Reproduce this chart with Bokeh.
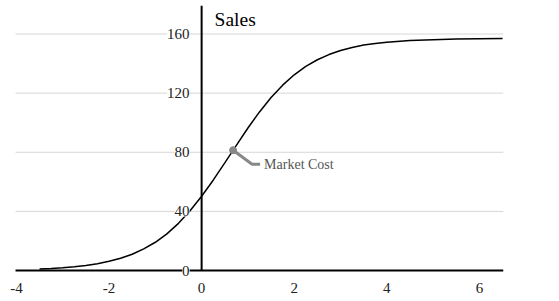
from bokeh.plotting import figure
from bokeh.models import Range1d, Label
from bokeh.embed import file_html
from bokeh.resources import INLINE

# ---- data ----
cost = [-3.5, -3.25, -3.0, -2.75, -2.5, -2.25, -2.0, -1.75, -1.5, -1.25, -1.0, -0.75,
        -0.5, -0.25, 0.0, 0.25, 0.5, 0.75, 1.0, 1.25, 1.5, 1.75, 2.0, 2.25, 2.5, 2.75,
        3.0, 3.25, 3.5, 3.75, 4.0, 4.5, 5.0, 5.5, 6.0, 6.5]
sales = [1.0, 1.4, 1.9, 2.5, 3.4, 4.6, 6.2, 8.3, 11.0, 14.6, 19.1, 24.8,
         31.9, 40.4, 50.2, 61.1, 72.8, 84.7, 96.4, 107.3, 117.0, 125.4, 132.4, 138.1, 142.6, 146.1,
         148.8, 150.9, 152.5, 153.6, 154.5, 155.6, 156.2, 156.6, 156.8, 156.9]

x_ticks = [-4, -2, 0, 2, 4, 6]
x_tick_labels = ["-4", "-2", "0", "2", "4", "6"]
y_ticks = [0, 40, 80, 120, 160]
y_tick_labels = ["0", "40", "80", "120", "160"]

market_cost = 0.68
market_sales = 81.4
market_label = "Market Cost"
x_title = "Cost"
y_title = "Sales"

# ---- layout ----
PXX = 46.3                  # pixels per cost unit
PXY = 1.478                 # pixels per sales unit
AX0, X1 = -4.02, 6.52       # extent of the x axis line / gridlines
FW = 503
XL = X1 - FW / PXX          # frame extends left of the axis so labels are not clipped
Y1 = 265 / PXY
Y0 = -28 / PXY
FH = 293
FONT = "Liberation Serif"

p = figure(frame_width=FW, frame_height=FH,
           x_range=Range1d(XL, X1), y_range=Range1d(Y0, Y1),
           output_backend="svg", toolbar_location=None,
           min_border_left=0, min_border_right=45, min_border_top=5, min_border_bottom=0)
p.outline_line_color = None
p.background_fill_color = "white"
p.border_fill_color = "white"
p.xaxis.visible = False
p.yaxis.visible = False
p.xgrid.visible = False
p.ygrid.visible = False

# horizontal gridlines
gy = y_ticks[1:]
p.segment(x0=[AX0] * len(gy), y0=gy, x1=[X1] * len(gy), y1=gy,
          line_color="#d6d6d6", line_width=1)

# axis lines
p.line([AX0, X1], [0, 0], line_color="black", line_width=2)
p.line([0, 0], [0, Y1], line_color="black", line_width=2)

# curve
p.line(cost, sales, line_color="black", line_width=1.5)

# annotation
lead_x = [market_cost, market_cost + 19 / PXX, market_cost + 27 / PXX]
lead_y = [market_sales, market_sales - 14 / PXY, market_sales - 14 / PXY]
p.line(lead_x, lead_y, line_color="#888888", line_width=3)
p.scatter([market_cost], [market_sales], size=7, color="#888888")
p.add_layout(Label(x=market_cost, y=market_sales, x_offset=31, y_offset=-14,
                   text=market_label, text_font=FONT, text_font_size="14px",
                   text_color="#555555", text_baseline="middle"))

# x tick labels
for xv, xl in zip(x_ticks, x_tick_labels):
    p.add_layout(Label(x=xv, y=0, y_offset=-17, text=xl,
                       text_align="center", text_baseline="middle",
                       text_font=FONT, text_font_size="15px", text_color="#222222"))

# y tick labels with white background (above curve and axis line)
for yv, yl in zip(y_ticks, y_tick_labels):
    p.add_layout(Label(x=0, y=yv, x_offset=-12, text=yl,
                       text_align="right", text_baseline="middle",
                       text_font=FONT, text_font_size="15px", text_color="#222222",
                       background_fill_color="white"))

# axis titles
p.add_layout(Label(x=X1, y=0, x_offset=5, text=x_title, text_font=FONT,
                   text_font_size="19.5px", text_color="black", text_baseline="middle"))
p.add_layout(Label(x=0, y=Y1, x_offset=13, y_offset=-3, text=y_title, text_font=FONT,
                   text_font_size="19.5px", text_color="black", text_baseline="top"))

open("out.html", "w").write(file_html(p, INLINE))
